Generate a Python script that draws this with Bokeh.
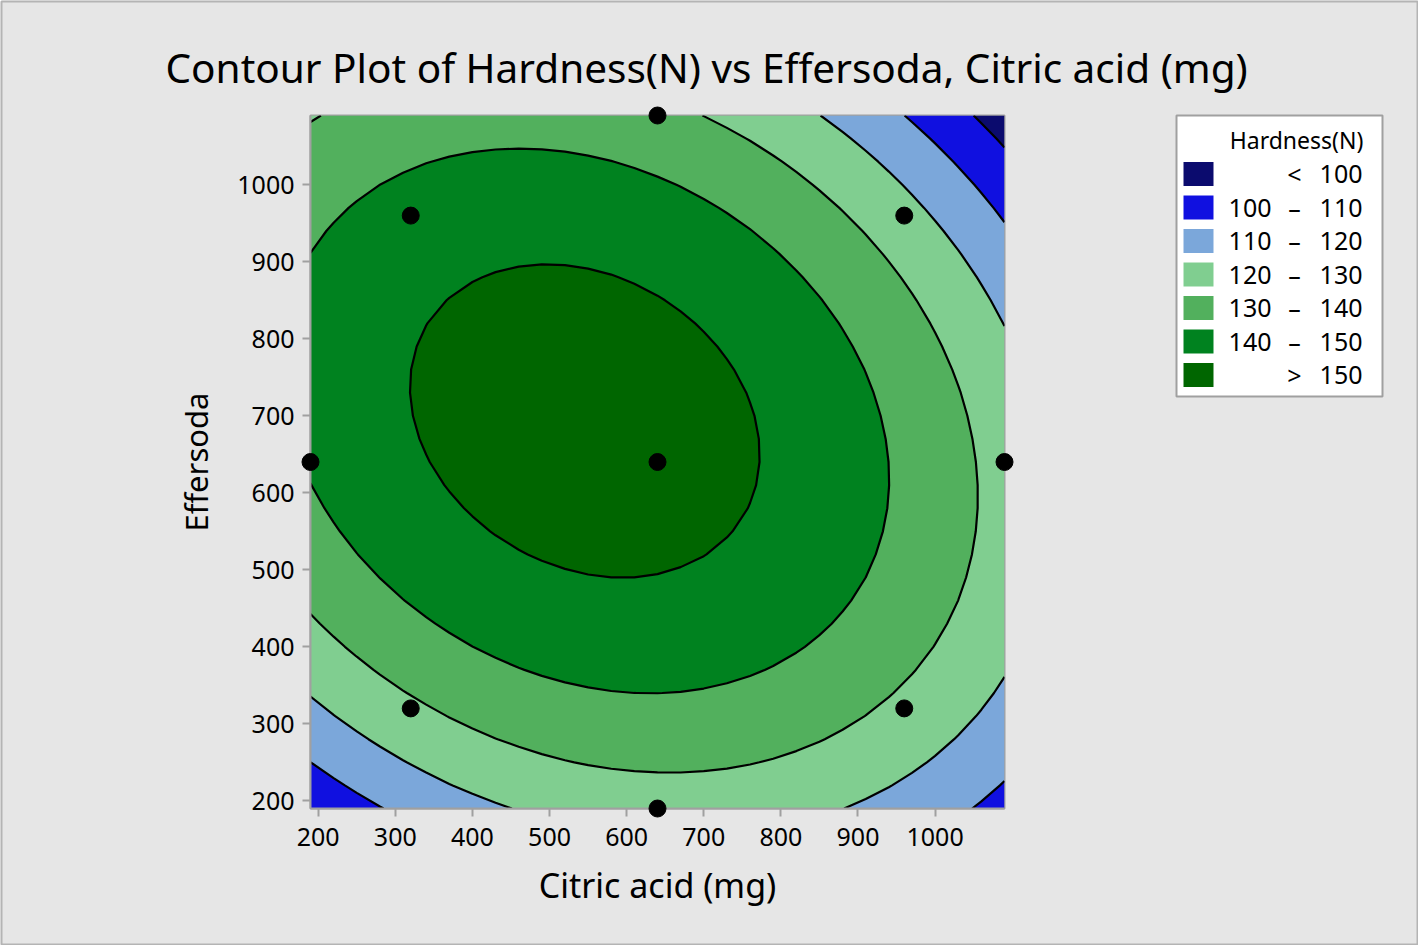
import numpy as np
from bokeh.plotting import figure
from bokeh.models import Range1d, FixedTicker
from bokeh.core.properties import value
from bokeh.embed import file_html
from bokeh.resources import INLINE

title_text = "Contour Plot of Hardness(N) vs Effersoda, Citric acid (mg)"
x_label = "Citric acid (mg)"
y_label = "Effersoda"
legend_title = "Hardness(N)"

# design points (black dots)
citric_pts = [640, 320, 960, 190, 640, 1090, 320, 960, 640]
effersoda_pts = [1090, 960, 960, 640, 640, 640, 320, 320, 190]

# fitted quadratic response surface (coded units: (value - 640) / 450),
# coefficients estimated from the contour lines of the picture
coef_names = ["const", "C", "E", "C*C", "E*E", "C*E"]
coef_vals = [153.954, -7.378, 3.977, -20.390, -25.363, -9.775]
code_center = 640
code_half = 450
axis_lo, axis_hi = 190, 1090

levels = [100, 110, 120, 130, 140, 150]
band_colors = ["#0B0B6E", "#1010E0", "#7BA7DA", "#80CE90", "#52B05D", "#00821F", "#006600"]
band_lo = ["", "100", "110", "120", "130", "140", ""]
band_sep = ["<", "\u2013", "\u2013", "\u2013", "\u2013", "\u2013", ">"]
band_hi = ["100", "110", "120", "130", "140", "150", "150"]

x_ticks = [200, 300, 400, 500, 600, 700, 800, 900, 1000]
y_ticks = [200, 300, 400, 500, 600, 700, 800, 900, 1000]

gx = np.linspace(axis_lo, axis_hi, 31)
gy = np.linspace(axis_lo, axis_hi, 31)
U, V = np.meshgrid((gx - code_center) / code_half, (gy - code_center) / code_half)
b0, b1, b2, b11, b22, b12 = coef_vals
Z = b0 + b1 * U + b2 * V + b11 * U * U + b22 * V * V + b12 * U * V

FONT = "Noto Sans"
W, H = 1418, 945
FL, FT, FW, FH = 310, 115, 694, 693

p = figure(width=W, height=H, x_range=Range1d(axis_lo, axis_hi), y_range=Range1d(axis_lo, axis_hi),
           output_backend="svg", toolbar_location=None,
           min_border_left=FL, min_border_right=W - FL - FW,
           min_border_top=FT, min_border_bottom=H - FT - FH)
p.border_fill_color = "#E6E6E6"
p.background_fill_color = "#E6E6E6"
p.outline_line_color = "#A0A0A0"
p.outline_line_width = 2
p.grid.visible = False

p.contour(gx, gy, Z, levels=[0] + levels + [400], fill_color=band_colors,
          line_color="black", line_width=2.2)
p.scatter(citric_pts, effersoda_pts, size=17, color="black", level="overlay")

p.title.text = title_text
p.title.align = "left"
p.title.offset = 165 - FL
p.title.standoff = 42
p.title.text_font = FONT
p.title.text_font_size = "40.5px"
p.title.text_font_style = "normal"
p.title.text_color = "black"

for ax, ticks in ((p.xaxis, x_ticks), (p.yaxis, y_ticks)):
    ax.ticker = FixedTicker(ticks=ticks)
    ax.major_tick_in = 0
    ax.major_tick_out = 8
    ax.minor_tick_line_color = None
    ax.axis_line_color = "#A0A0A0"
    ax.axis_line_width = 2
    ax.major_tick_line_color = "#A0A0A0"
    ax.major_tick_line_width = 2
    ax.major_label_text_font = FONT
    ax.major_label_text_font_size = "25px"
    ax.major_label_text_color = "black"
    ax.axis_label_text_font = FONT
    ax.axis_label_text_font_style = "normal"
    ax.axis_label_text_color = "black"
p.xaxis.axis_label = x_label
p.yaxis.axis_label = y_label
p.xaxis.axis_label_text_font_size = "34px"
p.yaxis.axis_label_text_font_size = "31px"
p.xaxis.major_label_standoff = 11
p.xaxis.axis_label_standoff = 13
p.yaxis.major_label_standoff = 8
p.yaxis.axis_label_standoff = 17

# legend and page border drawn in canvas-pixel coordinates
p.extra_x_ranges = {"px": Range1d(FL, FL + FW)}
p.extra_y_ranges = {"py": Range1d(FT + FH, FT)}
p.quad(left=[1], right=[W - 1], top=[1], bottom=[H - 1], fill_color=None,
       line_color="#B4B4B4", line_width=2, x_range_name="px", y_range_name="py", level="overlay")
p.quad(left=[1176], right=[1382], top=[115], bottom=[396], fill_color="white",
       line_color="#A0A0A0", line_width=2, x_range_name="px", y_range_name="py", level="overlay")
p.text(x=[1296], y=[139], text=[legend_title], x_range_name="px", y_range_name="py",
       text_align="center", text_baseline="middle", text_font=value(FONT),
       text_font_size="23px", text_color="black", level="overlay")
row_y = [173.5 + 33.5 * i for i in range(len(band_colors))]
p.rect(x=[1198] * 7, y=row_y, width=30, height=24, fill_color=band_colors,
       line_color=None, x_range_name="px", y_range_name="py", level="overlay")
p.text(x=[1271] * 7, y=row_y, text=band_lo, x_range_name="px", y_range_name="py",
       text_align="right", text_baseline="middle", text_font=value(FONT),
       text_font_size="25px", text_color="black", level="overlay")
p.text(x=[1294] * 7, y=row_y, text=band_sep, x_range_name="px", y_range_name="py",
       text_align="center", text_baseline="middle", text_font=value(FONT),
       text_font_size="25px", text_color="black", level="overlay")
p.text(x=[1362] * 7, y=row_y, text=band_hi, x_range_name="px", y_range_name="py",
       text_align="right", text_baseline="middle", text_font=value(FONT),
       text_font_size="25px", text_color="black", level="overlay")

open("out.html", "w").write(file_html(p, INLINE))
